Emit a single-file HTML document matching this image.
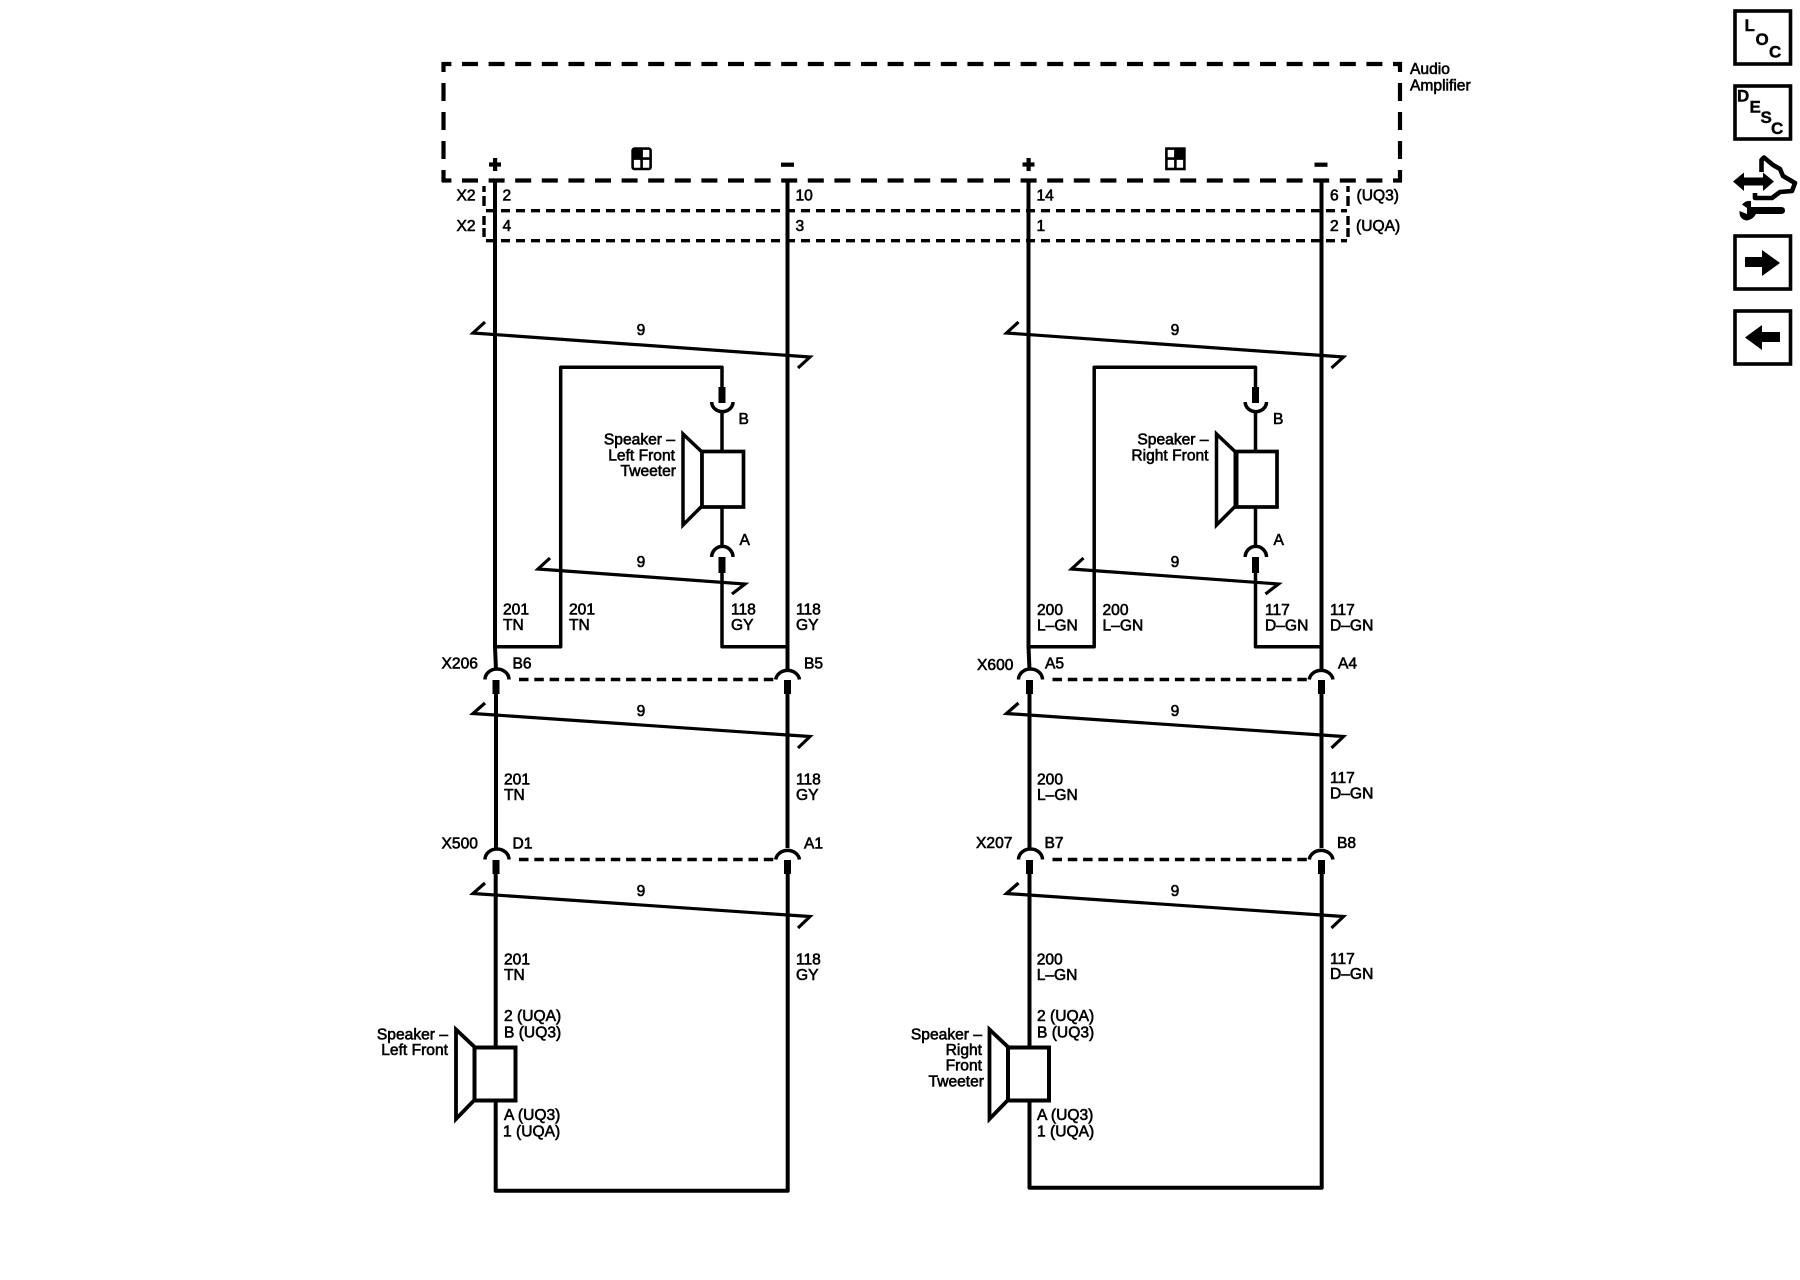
<!DOCTYPE html>
<html>
<head>
<meta charset="utf-8">
<title>Audio Amplifier Schematic</title>
<style>
html,body{margin:0;padding:0;background:#fff;width:1800px;height:1280px;overflow:hidden}
svg{display:block}
text{font-family:"Liberation Sans",Arial,sans-serif;font-size:15.6px;fill:#000;stroke:#000;stroke-width:.6px}
.e{text-anchor:end}
.m{text-anchor:middle}
.b{font-weight:bold;font-size:17px;stroke-width:.4px}
.w{fill:none;stroke:#000;stroke-width:4}
.t{fill:none;stroke:#000;stroke-width:3.5}
</style>
</head>
<body>
<svg width="1800" height="1280" viewBox="0 0 1800 1280" xmlns="http://www.w3.org/2000/svg">
<rect width="1800" height="1280" fill="#fff"/>

<!-- Amplifier dashed box -->
<g fill="none" stroke="#000" stroke-width="4.2">
<path d="M442 64H1402" stroke-dasharray="16 10.6" stroke-dashoffset="6.6"/>
<path d="M442 180.5H1402" stroke-dasharray="16 10.6" stroke-dashoffset="6.6"/>
<path d="M443.5 62V182" stroke-dasharray="18 11" stroke-dashoffset="8"/>
<path d="M1400 62V182" stroke-dasharray="18 11" stroke-dashoffset="8"/>
</g>

<!-- X2 dashed rows -->
<g fill="none" stroke="#000" stroke-width="3.4">
<path d="M486 210.7H1347" stroke-dasharray="9 6"/>
<path d="M486 240.7H1347" stroke-dasharray="9 6"/>
<path d="M484 186V192M484 196V206M484 216V225M484 228V237"/>
<path d="M1348 186V192M1348 196V206M1348 216V225M1348 228V237"/>
</g>

<!-- Module icons -->
<g fill="none" stroke="#000" stroke-width="2.6">
<rect x="632.6" y="148.6" width="18" height="20.4" rx="2"/>
<path d="M641.6 149V169M633 158.6H650"/>
<rect x="1166.4" y="148.6" width="18" height="20.4"/>
<path d="M1175.4 149V169M1167 158.6H1184"/>
</g>
<rect x="632.6" y="148.6" width="9" height="10" fill="#000"/>
<rect x="1175.4" y="148.6" width="9" height="10" fill="#000"/>

<!-- plus/minus -->
<g fill="#000">
<rect x="489" y="162.4" width="12" height="4.2"/><rect x="493" y="158" width="4.2" height="13"/>
<rect x="781" y="162.6" width="13" height="4.2"/>
<rect x="1022.5" y="162.4" width="12" height="4.2"/><rect x="1026.5" y="158" width="4.2" height="13"/>
<rect x="1314.5" y="162.6" width="13" height="4.2"/>
</g>

<!-- LEFT channel -->
<g>
<path class="w" d="M495 180V646.5L496 670"/>
<path class="w" d="M787.5 180V646.5L787.5 670"/>
<path class="t" stroke-linejoin="round" d="M495 646.7H560.7V367.3H722V388"/>
<path class="t" stroke-linejoin="round" d="M722 572V646.7H787"/>
<rect x="718.5" y="387" width="7" height="16" fill="#000"/>
<path class="t" d="M711.7 402A10.5 9.5 0 0 0 733 402"/>
<path class="t" d="M722 411V451"/>
<path class="t" d="M722 507V547"/>
<path class="t" d="M711.7 557A10.5 10.5 0 0 1 733 557"/>
<rect x="718.5" y="557" width="7" height="16" fill="#000"/>
<path fill="#fff" stroke="#000" stroke-width="3.5" d="M683 434L702 452V506L683 525Z"/>
<rect x="702" y="451.5" width="41.5" height="55.5" fill="#fff" stroke="#000" stroke-width="3.7"/>
<g fill="none" stroke="#000" stroke-width="3.2">
<path d="M485 322L473 333L810 357L798 368"/>
<path d="M550 558L538 569L745 584L732 594"/>
<path d="M485 703L473 713.5L810 736.5L798 748"/>
<path d="M485 883L473 893.5L810 916.5L798 928"/>
</g>
<path class="t" d="M485 679.5A12 10.5 0 0 1 509 679.5"/>
<path class="t" d="M775.7 679.5A12 10.5 0 0 1 799.5 679.5"/>
<path fill="none" stroke="#000" stroke-width="3.4" d="M519 679.5H775" stroke-dasharray="9.5 5.8"/>
<rect x="492.5" y="680" width="7" height="14" fill="#000"/>
<rect x="784" y="680" width="7" height="14" fill="#000"/>
<path class="w" d="M496 694V848"/>
<path class="w" d="M787.5 694V848"/>
<path class="t" d="M485 859.5A12 10.5 0 0 1 509 859.5"/>
<path class="t" d="M775.7 859.5A12 10.5 0 0 1 799.5 859.5"/>
<path fill="none" stroke="#000" stroke-width="3.4" d="M519 859.5H775" stroke-dasharray="9.5 5.8"/>
<rect x="492.5" y="860" width="7" height="14" fill="#000"/>
<rect x="784" y="860" width="7" height="14" fill="#000"/>
</g>

<!-- RIGHT channel -->
<g transform="translate(533.5 0)">
<path class="w" d="M495 180V646.5L496 670"/>
<path class="w" d="M788 180V646.5L788 670"/>
<path class="t" stroke-linejoin="round" d="M495 646.7H560.7V367.3H722V388"/>
<path class="t" stroke-linejoin="round" d="M722 572V646.7H787"/>
<rect x="718.5" y="387" width="7" height="16" fill="#000"/>
<path class="t" d="M711.7 402A10.5 9.5 0 0 0 733 402"/>
<path class="t" d="M722 411V451"/>
<path class="t" d="M722 507V547"/>
<path class="t" d="M711.7 557A10.5 10.5 0 0 1 733 557"/>
<rect x="718.5" y="557" width="7" height="16" fill="#000"/>
<path fill="#fff" stroke="#000" stroke-width="3.5" d="M683 434L702 452V506L683 525Z"/>
<rect x="702" y="451.5" width="41.5" height="55.5" fill="#fff" stroke="#000" stroke-width="3.7"/>
<path d="M700 452h5v55h-5z" fill="#000"/>
<g fill="none" stroke="#000" stroke-width="3.2">
<path d="M485 322L473 333L810 357L798 368"/>
<path d="M550 558L538 569L745 584L732 594"/>
<path d="M485 703L473 713.5L810 736.5L798 748"/>
<path d="M485 883L473 893.5L810 916.5L798 928"/>
</g>
<path class="t" d="M485 679.5A12 10.5 0 0 1 509 679.5"/>
<path class="t" d="M775.7 679.5A12 10.5 0 0 1 799.5 679.5"/>
<path fill="none" stroke="#000" stroke-width="3.4" d="M519 679.5H775" stroke-dasharray="9.5 5.8"/>
<rect x="492.5" y="680" width="7" height="14" fill="#000"/>
<rect x="784.5" y="680" width="7" height="14" fill="#000"/>
<path class="w" d="M496 694V848"/>
<path class="w" d="M788 694V848"/>
<path class="t" d="M485 859.5A12 10.5 0 0 1 509 859.5"/>
<path class="t" d="M775.7 859.5A12 10.5 0 0 1 799.5 859.5"/>
<path fill="none" stroke="#000" stroke-width="3.4" d="M519 859.5H775" stroke-dasharray="9.5 5.8"/>
<rect x="492.5" y="860" width="7" height="14" fill="#000"/>
<rect x="784.5" y="860" width="7" height="14" fill="#000"/>
</g>

<!-- Bottom loops -->
<path class="w" stroke-linejoin="round" d="M495.7 874V1190.7H787.7V874"/>
<path class="w" stroke-linejoin="round" d="M1029.5 874V1187.7H1321.7V874"/>

<!-- Bottom speakers -->
<path fill="#fff" stroke="#000" stroke-width="3.8" d="M456 1029.5L474.5 1047V1100L456 1119Z"/>
<rect x="474.5" y="1047.5" width="41" height="53" fill="#fff" stroke="#000" stroke-width="4"/>
<path fill="#fff" stroke="#000" stroke-width="3.8" d="M989.5 1029.5L1008 1047V1100L989.5 1119Z"/>
<rect x="1008" y="1047.5" width="41" height="53" fill="#fff" stroke="#000" stroke-width="4"/>

<!-- Text labels -->
<text x="1410" y="74">Audio</text>
<text x="1410" y="90.5">Amplifier</text>
<text x="456.5" y="200.5">X2</text>
<text x="456.5" y="231">X2</text>
<text x="502.5" y="200.5">2</text>
<text x="502.5" y="231">4</text>
<text x="795.5" y="200.5">10</text>
<text x="795.5" y="231">3</text>
<text x="1036.5" y="200.5">14</text>
<text x="1036.5" y="231">1</text>
<text x="1330" y="200.5">6</text>
<text x="1330" y="231">2</text>
<text x="1356.5" y="200.5">(UQ3)</text>
<text x="1356" y="231">(UQA)</text>

<text class="m" x="641" y="335">9</text>
<text class="m" x="641" y="567">9</text>
<text class="m" x="641" y="716">9</text>
<text class="m" x="641" y="896">9</text>
<text class="m" x="1175" y="335">9</text>
<text class="m" x="1175" y="567">9</text>
<text class="m" x="1175" y="716">9</text>
<text class="m" x="1175" y="896">9</text>

<text x="738.5" y="424">B</text>
<text x="739.5" y="545">A</text>
<text x="1273" y="424">B</text>
<text x="1273.5" y="545">A</text>

<text class="e" x="675" y="444.3">Speaker –</text>
<text class="e" x="675" y="460.5">Left Front</text>
<text class="e" x="676" y="476">Tweeter</text>
<text class="e" x="1208.5" y="444.3">Speaker –</text>
<text class="e" x="1208.5" y="460.5">Right Front</text>

<text x="503" y="614.5">201</text><text x="503" y="630">TN</text>
<text x="569" y="614.5">201</text><text x="569" y="630">TN</text>
<text x="731" y="614.5">118</text><text x="731" y="630">GY</text>
<text x="796" y="614.5">118</text><text x="796" y="630">GY</text>
<text x="1037" y="615">200</text><text x="1037" y="630.5">L–GN</text>
<text x="1102.5" y="615">200</text><text x="1102.5" y="630.5">L–GN</text>
<text x="1265" y="615">117</text><text x="1265" y="630.5">D–GN</text>
<text x="1330" y="615">117</text><text x="1330" y="630.5">D–GN</text>

<text x="441.5" y="668.3">X206</text>
<text x="512.5" y="668.3">B6</text>
<text x="804" y="668.3">B5</text>
<text x="977" y="670">X600</text>
<text x="1045" y="668.3">A5</text>
<text x="1338" y="668.3">A4</text>

<text x="504" y="784.5">201</text><text x="504" y="800">TN</text>
<text x="796" y="784.5">118</text><text x="796" y="800">GY</text>
<text x="1037" y="784.5">200</text><text x="1037" y="800">L–GN</text>
<text x="1330" y="783">117</text><text x="1330" y="798.5">D–GN</text>

<text x="441.5" y="848.3">X500</text>
<text x="512.5" y="848.3">D1</text>
<text x="804" y="848.3">A1</text>
<text x="976" y="848">X207</text>
<text x="1044.5" y="848">B7</text>
<text x="1337" y="848">B8</text>

<text x="504" y="964.3">201</text><text x="504" y="980">TN</text>
<text x="796" y="964.3">118</text><text x="796" y="980">GY</text>
<text x="1036.7" y="964.3">200</text><text x="1036.7" y="980">L–GN</text>
<text x="1330" y="964">117</text><text x="1330" y="979">D–GN</text>

<text x="504" y="1021">2 (UQA)</text>
<text x="504" y="1037.5">B (UQ3)</text>
<text x="504" y="1120">A (UQ3)</text>
<text x="503" y="1136.5">1 (UQA)</text>
<text x="1037" y="1021">2 (UQA)</text>
<text x="1037" y="1037.5">B (UQ3)</text>
<text x="1037" y="1120">A (UQ3)</text>
<text x="1037" y="1136.5">1 (UQA)</text>

<text class="e" x="448" y="1039.3">Speaker –</text>
<text class="e" x="448" y="1055">Left Front</text>
<text class="e" x="982" y="1039.3">Speaker –</text>
<text class="e" x="982" y="1055">Right</text>
<text class="e" x="982" y="1070.7">Front</text>
<text class="e" x="984" y="1086.7">Tweeter</text>

<!-- Side toolbar -->
<g fill="none" stroke="#000" stroke-width="3.6">
<rect x="1735" y="11" width="55.5" height="53"/>
<rect x="1735" y="86" width="55.5" height="53"/>
<rect x="1735" y="236" width="55.5" height="53"/>
<rect x="1735" y="311" width="55.5" height="53"/>
</g>
<text class="b" x="1744.5" y="31">L</text>
<text class="b" x="1755.5" y="45">O</text>
<text class="b" x="1769" y="57.5">C</text>
<text class="b" x="1737" y="101.5">D</text>
<text class="b" x="1749.5" y="112.5">E</text>
<text class="b" x="1760.5" y="123">S</text>
<text class="b" x="1771" y="134">C</text>

<!-- Nav icon -->
<path fill="#000" d="M1733 181.5L1744 172.5V177.5H1763V172.5L1774 181.5L1763 191V185.5H1744V191Z"/>
<path fill="none" stroke="#000" stroke-width="4.6" stroke-linejoin="round" d="M1761.5 172V160L1764 157.5L1773 165L1780 169L1783 176L1795 183L1792 191L1780 192L1772 198H1755V193"/>
<path fill="#000" d="M1751 207H1781Q1785 207 1785 210.5T1781 214H1756Q1753 219.5 1747 220.5Q1739 219.5 1739.5 211L1747 214V208L1742 204.5Q1746 200 1751 201Z"/>

<!-- arrows -->
<path fill="#000" d="M1745 257H1762V250L1780 263L1762 276V267H1745Z"/>
<path fill="#000" d="M1780 332H1762V325L1745 337.5L1762 350V342H1780Z"/>
</svg>
</body>
</html>
